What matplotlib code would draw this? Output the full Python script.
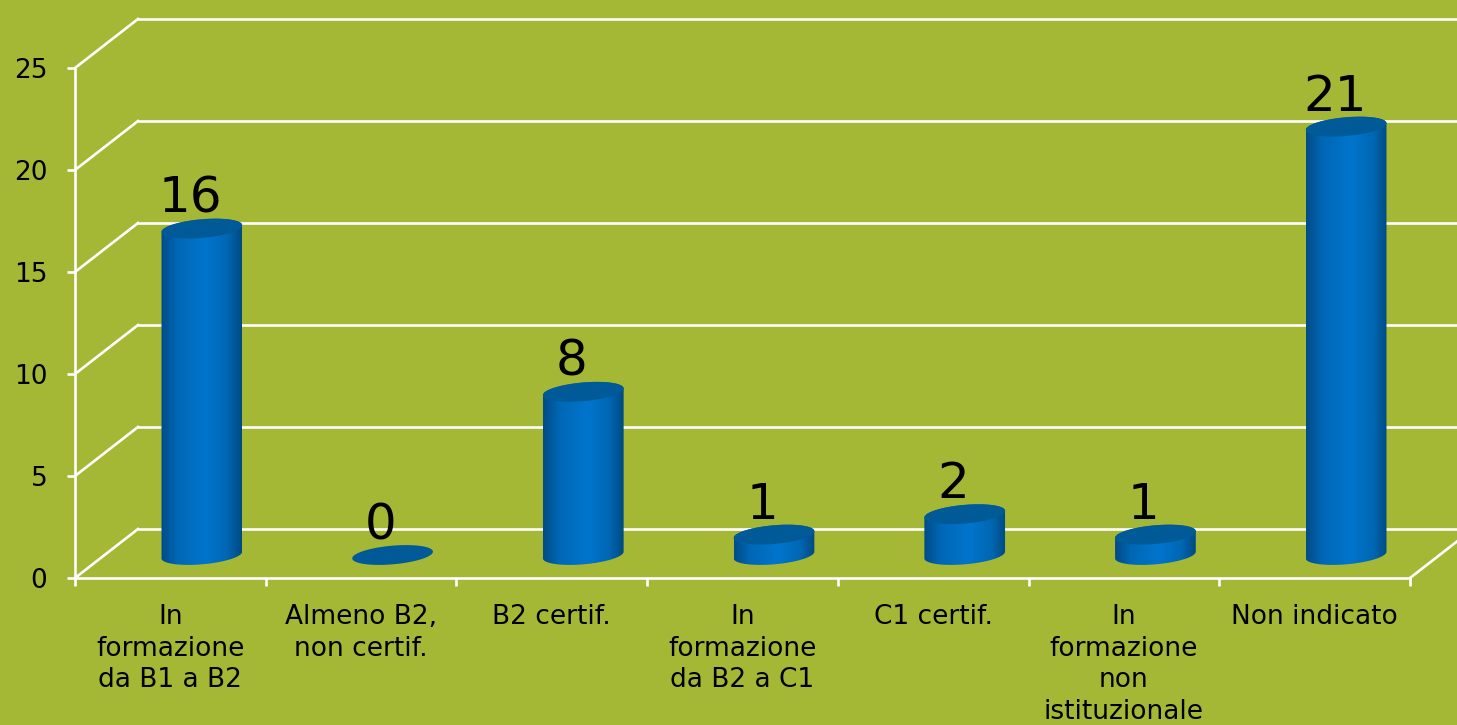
import numpy as np
import matplotlib
matplotlib.use("Agg")
import matplotlib.pyplot as plt
from matplotlib.colors import LinearSegmentedColormap
from matplotlib.patches import PathPatch
from matplotlib.path import Path
from matplotlib.transforms import Affine2D, IdentityTransform

categories = ["In\nformazione\nda B1 a B2", "Almeno B2,\nnon certif.", "B2 certif.",
              "In\nformazione\nda B2 a C1", "C1 certif.",
              "In\nformazione\nnon\nistituzionale", "Non indicato"]
values = [16, 0, 8, 1, 2, 1, 21]
y_ticks = [0, 5, 10, 15, 20, 25]

BG = "#a5b835"
W, H = 1457, 725
DEPTH = (63, 49)          # wall offset in pixels
BAR_SHIFT = (31.5, 23)    # cylinders sit halfway into the floor
HALF_W, HALF_H, TILT = 40.5, 9.3, np.radians(5)

fig = plt.figure(figsize=(W / 100, H / 100), dpi=100, facecolor=BG)
ax = fig.add_axes([75 / W, 1 - 578 / H, 1335 / W, 510 / H], facecolor="none")
ax.set_xlim(-0.5, 6.5)
ax.set_ylim(0, 25)
ax.set_autoscale_on(False)

back = ax.transData + Affine2D().translate(*DEPTH)
mid = ax.transData + Affine2D().translate(*BAR_SHIFT)

# walls
for v in y_ticks:
    left = ax.transData.transform((-0.5, v))
    right = back.transform((-0.5, v))
    ax.plot([left[0], right[0]], [left[1], right[1]], color="white", lw=1.9,
            transform=IdentityTransform(), clip_on=False, zorder=1)
    ax.plot([-0.5, 6.5], [v, v], color="white", lw=1.9, transform=back,
            clip_on=False, zorder=1)
right0 = ax.transData.transform((6.5, 0))
right1 = back.transform((6.5, 0))
ax.plot([right0[0], right1[0]], [right0[1], right1[1]], color="white", lw=1.9,
        transform=IdentityTransform(), clip_on=False, zorder=1)

cmap = LinearSegmentedColormap.from_list("cyl", [(0, "#004c86"), (0.2, "#0067b5"),
                                                 (0.55, "#0075cd"), (0.82, "#0067b3"),
                                                 (1, "#004a80")])
grad = np.linspace(0, 1, 256).reshape(1, -1)
bar_w = 2 * HALF_W / (1335 / 7)


def ellipse_pts(cx, cy, t):
    x = HALF_W * np.cos(t)
    y = HALF_H * np.sin(t)
    return np.column_stack([cx + x * np.cos(TILT) - y * np.sin(TILT),
                            cy + x * np.sin(TILT) + y * np.cos(TILT)])


for i, v in enumerate(values):
    cx, y0 = mid.transform((i, 0))
    _, y1 = mid.transform((i, v))
    if v > 0:
        pts = np.vstack([ellipse_pts(cx, y1, np.linspace(0, np.pi, 60)),
                         ellipse_pts(cx, y0, np.linspace(np.pi, 2 * np.pi, 60))])
        clip = Path(np.vstack([pts, pts[0]]), closed=True)
        im = ax.imshow(grad, cmap=cmap, aspect="auto", transform=mid, zorder=3,
                       extent=[i - bar_w / 2, i + bar_w / 2, -1, v + 1], interpolation="bilinear")
        im.set_clip_path(clip, IdentityTransform())
    top = ellipse_pts(cx, y1, np.linspace(0, 2 * np.pi, 120))
    ax.add_patch(PathPatch(Path(top, closed=True), facecolor="#005a97", edgecolor="none",
                           transform=IdentityTransform(), zorder=4, clip_on=False))
    ax.annotate(str(v), xy=(i, v), xytext=(20, 39), textcoords="offset pixels",
                ha="center", va="baseline", fontsize=36, color="black", zorder=5)

ax.spines[["top", "right"]].set_visible(False)
for s in ["left", "bottom"]:
    ax.spines[s].set_color("white")
    ax.spines[s].set_linewidth(1.9)

ax.set_yticks(y_ticks)
ax.tick_params(axis="y", colors="white", length=5.5, width=1.9, pad=14.5, labelcolor="black", labelsize=19)
ax.set_xticks(np.arange(-0.5, 7), labels=[])
ax.set_xticks(np.arange(7), labels=categories, minor=True)
ax.tick_params(axis="x", which="major", colors="white", length=6, width=1.9)
ax.tick_params(axis="x", which="minor", length=0, pad=18.7, labelsize=19, labelcolor="black")
for lab in ax.get_xticklabels(minor=True):
    lab.set_linespacing(1.28)

fig.savefig("out.png", dpi=100, facecolor=BG)
